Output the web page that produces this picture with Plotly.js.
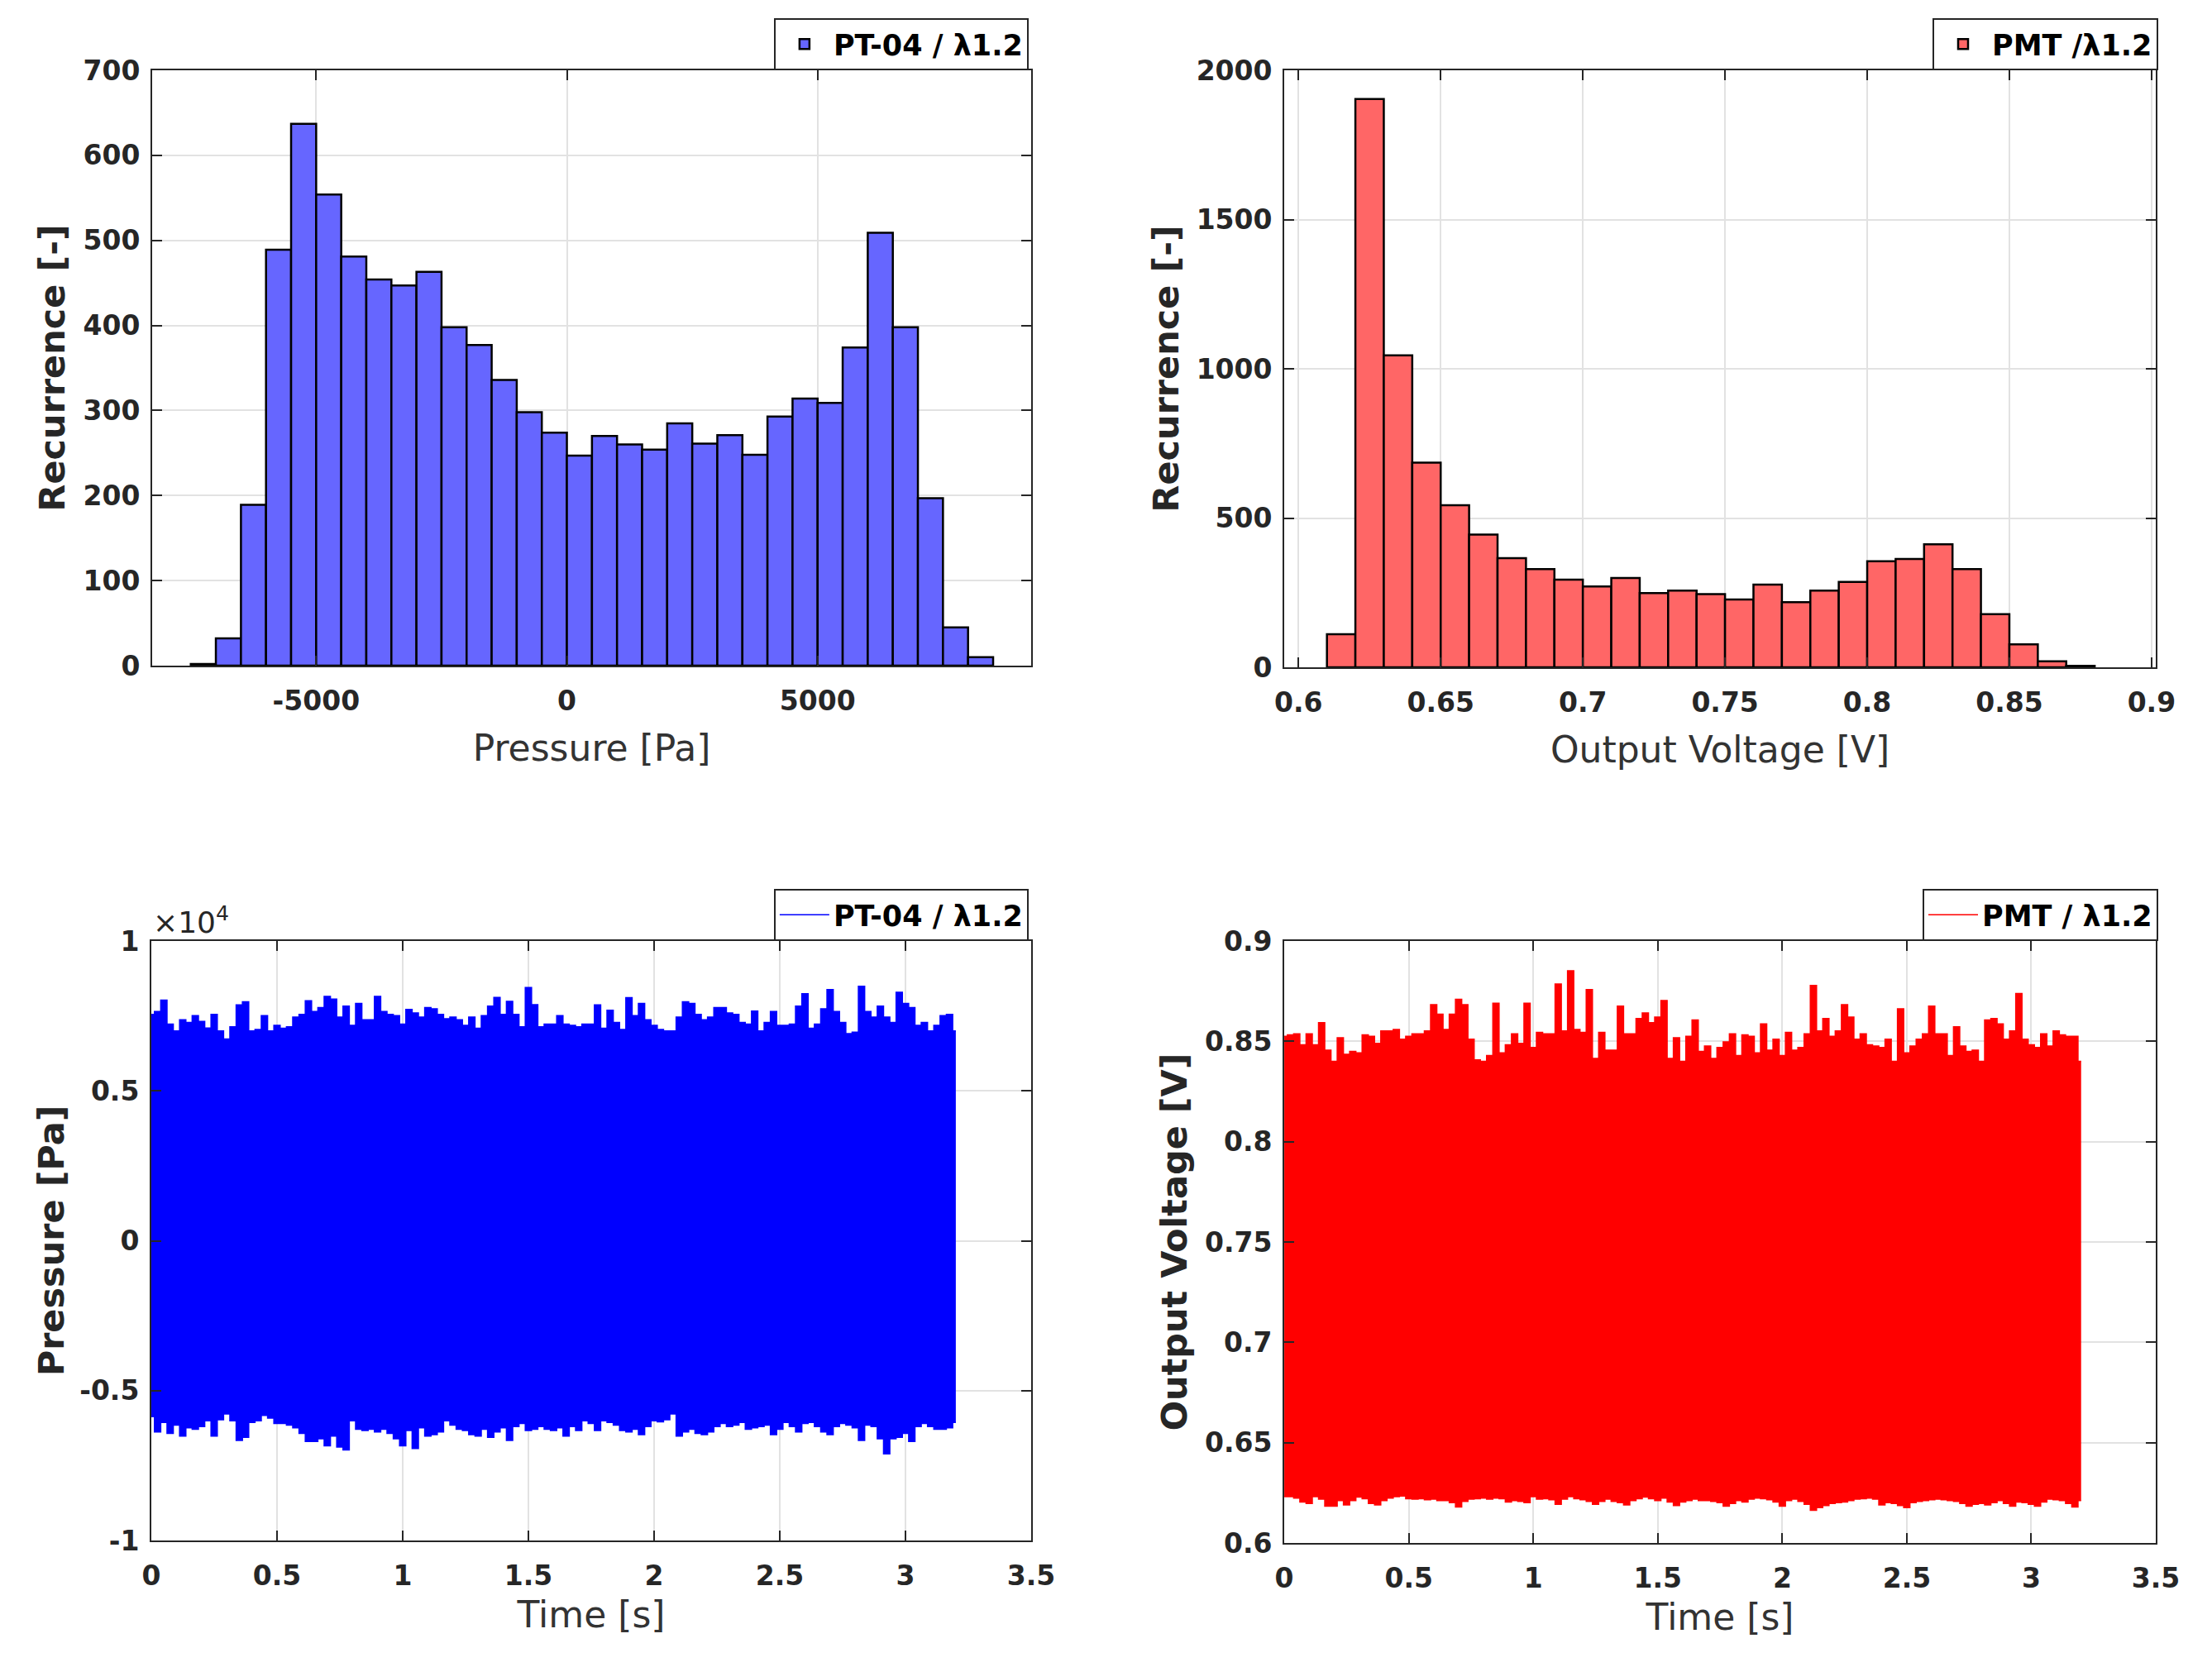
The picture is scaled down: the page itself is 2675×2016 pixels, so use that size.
<!DOCTYPE html>
<html>
<head>
<meta charset="utf-8">
<script src="https://cdn.plot.ly/plotly-3.0.1.min.js"></script>
<style>html,body{margin:0;padding:0;background:#fff}</style>
</head>
<body>
<div id="chart" style="width:2675px;height:2016px"></div>
<script>
// histogram of the pressure signal (bin left edges in Pa, 500 Pa bins)
const pressureBinLeft = [-7500, -7000, -6500, -6000, -5500, -5000, -4500, -4000, -3500, -3000, -2500, -2000,
  -1500, -1000, -500, 0, 500, 1000, 1500, 2000, 2500, 3000, 3500, 4000, 4500, 5000, 5500, 6000, 6500, 7000, 7500, 8000];
const pressureCounts = [2, 32, 189, 489, 637, 554, 481, 454, 447, 463, 398, 377, 336, 298, 274, 247, 270, 260, 254,
  285, 261, 271, 248, 293, 314, 309, 374, 509, 398, 197, 45, 10];

// histogram of the PMT voltage (bin left edges in V, 0.01 V bins)
const voltageBinLeft = [0.61, 0.62, 0.63, 0.64, 0.65, 0.66, 0.67, 0.68, 0.69, 0.70, 0.71, 0.72, 0.73, 0.74, 0.75,
  0.76, 0.77, 0.78, 0.79, 0.80, 0.81, 0.82, 0.83, 0.84, 0.85, 0.86, 0.87];
const voltageCounts = [111, 1904, 1045, 686, 543, 445, 366, 329, 294, 271, 299, 249, 257, 245, 227, 277, 218, 257,
  286, 355, 363, 412, 329, 178, 77, 20, 5];

// time signals, min/max per 0.025 s window
const SAMPLE_STEP = 0.025;
const pressureUpper = [
  7550, 7650, 8030, 7230, 7000, 7370, 7280, 7510, 7320, 7100,
  7550, 7000, 6730, 7140, 7870, 7970, 7000, 7050, 7510, 7000,
  7190, 7090, 7140, 7460, 7550, 8010, 7650, 7780, 8150, 8060,
  7460, 7830, 7190, 7920, 7370, 7370, 8150, 7650, 7550, 7510,
  7230, 7720, 7600, 7460, 7780, 7740, 7550, 7410, 7460, 7370,
  7190, 7460, 7090, 7510, 7830, 8120, 7550, 7990, 7550, 7140,
  8450, 7880, 7140, 7230, 7230, 7510,
  7230, 7190, 7140, 7230, 7230, 7870, 7090, 7690, 7280, 7050,
  8110, 7510, 7920, 7370, 7190, 7050, 7000, 7000, 7460, 7970,
  7920, 7550, 7370, 7460, 7780, 7780, 7600, 7550, 7280, 7230,
  7660, 7000, 7280, 7650, 7190, 7190, 7230, 7830, 8240, 7090,
  7230, 7740, 8380, 7650, 7280, 6910, 6960, 8490, 7650, 7460,
  7830, 7460, 7280, 8290, 7920, 7780, 7190, 7280, 7000, 7190,
  7510, 7550, 7000];
const pressureLower = [
  -5870, -6380, -6060, -6430, -6150, -6520, -6240, -6290, -6200, -6010,
  -6520, -5970, -5780, -6010, -6660, -6560, -6060, -6010, -5830, -5920,
  -6100, -6100, -6150, -6240, -6430, -6700, -6700, -6610, -6840, -6520,
  -6880, -6980, -6010, -6290, -6330, -6290, -6380, -6290, -6430, -6610,
  -6840, -6330, -6930, -6240, -6520, -6470, -6380, -6010, -6150, -6290,
  -6330, -6470, -6520, -6290, -6560, -6380, -6240, -6660, -6200, -6100,
  -6330, -6290, -6200, -6290, -6330, -6240,
  -6520, -6200, -6330, -6010, -6100, -6330, -6010, -6060, -6150, -6330,
  -6380, -6290, -6470, -6200, -6010, -6040, -5970, -5780, -6520, -6380,
  -6290, -6430, -6470, -6380, -6200, -6100, -6200, -6150, -6060, -6290,
  -6240, -6200, -6150, -6470, -6290, -6060, -6200, -6380, -6100, -6060,
  -6200, -6380, -6470, -6200, -6100, -6150, -6240, -6660, -6150, -6200,
  -6610, -7110, -6610, -6560, -6430, -6700, -6200, -6100, -6200, -6290,
  -6290, -6240, -6060];
const voltageUpper = [
  0.8525, 0.8532, 0.8538, 0.8483, 0.8538, 0.8483, 0.8593, 0.8456, 0.8401, 0.8518,
  0.8436, 0.8450, 0.8443, 0.8532, 0.8525, 0.8490, 0.8552, 0.8552, 0.8559, 0.8511,
  0.8525, 0.8538, 0.8538, 0.8552, 0.8683, 0.8635, 0.8559, 0.8635, 0.8710, 0.8683,
  0.8511, 0.8408, 0.8401, 0.8429, 0.8690, 0.8443, 0.8483, 0.8538, 0.8490, 0.8690,
  0.8470, 0.8545, 0.8538, 0.8538, 0.8786, 0.8552, 0.8852, 0.8559, 0.8545, 0.8758,
  0.8415, 0.8545, 0.8456, 0.8456, 0.8676, 0.8538, 0.8538, 0.8614, 0.8642, 0.8593,
  0.8621, 0.8703, 0.8415, 0.8518, 0.8401, 0.8525,
  0.8607, 0.8450, 0.8477, 0.8415, 0.8470, 0.8497, 0.8538, 0.8429, 0.8532, 0.8525,
  0.8443, 0.8587, 0.8456, 0.8511, 0.8429, 0.8545, 0.8456, 0.8470, 0.8538, 0.8779,
  0.8552, 0.8614, 0.8525, 0.8552, 0.8683, 0.8621, 0.8511, 0.8538, 0.8483, 0.8477,
  0.8470, 0.8511, 0.8401, 0.8662, 0.8443, 0.8477, 0.8511, 0.8538, 0.8676, 0.8538,
  0.8538, 0.8429, 0.8573, 0.8477, 0.8450, 0.8456, 0.8401, 0.8607, 0.8614, 0.8587,
  0.8511, 0.8552, 0.8738, 0.8511, 0.8483, 0.8470, 0.8538, 0.8477, 0.8552, 0.8532,
  0.8525, 0.8525, 0.8401];
const voltageLower = [
  0.6231, 0.6231, 0.6224, 0.6204, 0.6197, 0.6231, 0.6218, 0.6183, 0.6183, 0.6211,
  0.6190, 0.6211, 0.6229, 0.6220, 0.6197, 0.6190, 0.6211, 0.6224, 0.6231, 0.6234,
  0.6220, 0.6218, 0.6220, 0.6215, 0.6218, 0.6211, 0.6211, 0.6201, 0.6179, 0.6207,
  0.6218, 0.6220, 0.6224, 0.6218, 0.6224, 0.6220, 0.6204, 0.6211, 0.6207, 0.6201,
  0.6231, 0.6218, 0.6220, 0.6215, 0.6193, 0.6218, 0.6231, 0.6220, 0.6215, 0.6207,
  0.6193, 0.6207, 0.6218, 0.6207, 0.6201, 0.6190, 0.6211, 0.6220, 0.6229, 0.6220,
  0.6211, 0.6224, 0.6204, 0.6187, 0.6204, 0.6211,
  0.6218, 0.6211, 0.6211, 0.6207, 0.6201, 0.6183, 0.6197, 0.6211, 0.6204, 0.6218,
  0.6224, 0.6220, 0.6215, 0.6204, 0.6183, 0.6211, 0.6218, 0.6207, 0.6193, 0.6163,
  0.6176, 0.6187, 0.6197, 0.6201, 0.6204, 0.6211, 0.6218, 0.6220, 0.6224, 0.6218,
  0.6190, 0.6201, 0.6197, 0.6187, 0.6176, 0.6201, 0.6207, 0.6211, 0.6215, 0.6218,
  0.6215, 0.6211, 0.6207, 0.6197, 0.6183, 0.6193, 0.6197, 0.6190, 0.6201, 0.6211,
  0.6197, 0.6183, 0.6204, 0.6201, 0.6193, 0.6183, 0.6204, 0.6218, 0.6215, 0.6211,
  0.6197, 0.6179, 0.6211];

const timeSeconds = pressureUpper.map((_, i) => i * SAMPLE_STEP);

const DARK = "#262626";
const tickFont = { family: "DejaVu Sans", size: 33, color: DARK, weight: "bold" };

function achse(extra) {
  return Object.assign({
    showline: true, mirror: "ticks", linecolor: DARK, linewidth: 2,
    ticks: "inside", ticklen: 12, tickwidth: 2, tickcolor: DARK,
    showgrid: true, gridcolor: "#e2e2e2", gridwidth: 2,
    zeroline: false, tickfont: tickFont, automargin: false, fixedrange: true
  }, extra);
}

function titel(text, bold, standoff) {
  return { text: text, standoff: standoff,
    font: { family: "DejaVu Sans", size: bold ? 43 : 44, color: bold ? DARK : "#333333", weight: bold ? "bold" : "normal" } };
}

function legende(xRight, yBottom) {
  return {
    x: xRight, xanchor: "right", y: yBottom, yanchor: "bottom",
    bgcolor: "#ffffff", bordercolor: DARK, borderwidth: 2,
    font: { family: "DejaVu Sans", size: 35, color: "#000", weight: "bold" },
    itemwidth: 60, tracegroupgap: 0
  };
}

const traces = [
  {
    type: "bar", x: pressureBinLeft, y: pressureCounts, width: 500, offset: 0,
    marker: { color: "#6666ff", line: { color: "#000", width: 2.5 } },
    name: "PT-04 / λ1.2", xaxis: "x", yaxis: "y", legend: "legend"
  },
  {
    type: "bar", x: voltageBinLeft, y: voltageCounts, width: 0.01, offset: 0,
    marker: { color: "#ff6666", line: { color: "#000", width: 2.5 } },
    name: "PMT /λ1.2", xaxis: "x2", yaxis: "y2", legend: "legend2"
  },
  {
    type: "scatter", mode: "lines", x: timeSeconds, y: pressureLower,
    line: { color: "#0000ff", width: 1.5, shape: "hvh" },
    name: "PT-04 / λ1.2", xaxis: "x3", yaxis: "y3", legend: "legend3"
  },
  {
    type: "scatter", mode: "lines", x: timeSeconds, y: pressureUpper,
    line: { color: "#0000ff", width: 1.5, shape: "hvh" }, fill: "tonexty", fillcolor: "#0000ff",
    showlegend: false, xaxis: "x3", yaxis: "y3"
  },
  {
    type: "scatter", mode: "lines", x: timeSeconds, y: voltageLower,
    line: { color: "#ff0000", width: 1.5, shape: "hvh" },
    name: "PMT / λ1.2", xaxis: "x4", yaxis: "y4", legend: "legend4"
  },
  {
    type: "scatter", mode: "lines", x: timeSeconds, y: voltageUpper,
    line: { color: "#ff0000", width: 1.5, shape: "hvh" }, fill: "tonexty", fillcolor: "#ff0000",
    showlegend: false, xaxis: "x4", yaxis: "y4"
  }
];

const layout = {
  width: 2675, height: 2016,
  margin: { l: 0, r: 0, t: 0, b: 0 },
  paper_bgcolor: "#fff", plot_bgcolor: "#fff",
  bargap: 0,
  xaxis: achse({ domain: [0.0688, 0.4662], anchor: "y", range: [-8270, 9260],
    tickvals: [-5000, 0, 5000], ticktext: ["-5000", "0", "5000"], ticklabelstandoff: 12,
    title: titel("Pressure [Pa]", false, 24) }),
  yaxis: achse({ domain: [0.6007, 0.9578], anchor: "x", range: [0, 700], dtick: 100,
    ticklabelstandoff: 6, title: titel("Recurrence [-]", true, 8) }),
  xaxis2: achse({ domain: [0.5806, 0.9746], anchor: "y2", range: [0.595, 0.9015],
    tickvals: [0.6, 0.65, 0.7, 0.75, 0.8, 0.85, 0.9], ticklabelstandoff: 12,
    title: titel("Output Voltage [V]", false, 24) }),
  yaxis2: achse({ domain: [0.5997, 0.9578], anchor: "x2", range: [0, 2000], dtick: 500,
    ticklabelstandoff: 6, title: titel("Recurrence [-]", true, 8) }),
  xaxis3: achse({ domain: [0.0684, 0.4662], anchor: "y3", range: [0, 3.5], dtick: 0.5,
    ticklabelstandoff: 12, title: titel("Time [s]", false, 14) }),
  yaxis3: achse({ domain: [0.0759, 0.4355], anchor: "x3", range: [-10000, 10000],
    tickvals: [-10000, -5000, 0, 5000, 10000], ticktext: ["-1", "-0.5", "0", "0.5", "1"],
    ticklabelstandoff: 6, title: titel("Pressure [Pa]", true, 5) }),
  xaxis4: achse({ domain: [0.5806, 0.9746], anchor: "y4", range: [0, 3.5], dtick: 0.5,
    ticklabelstandoff: 12, title: titel("Time [s]", false, 14) }),
  yaxis4: achse({ domain: [0.0744, 0.4355], anchor: "x4", range: [0.6, 0.9],
    tickvals: [0.6, 0.65, 0.7, 0.75, 0.8, 0.85, 0.9],
    ticklabelstandoff: 6, title: titel("Output Voltage [V]", true, 8) }),
  legend: legende(0.465, 0.9578),
  legend2: legende(0.9757, 0.9578),
  legend3: legende(0.465, 0.4355),
  legend4: legende(0.9757, 0.4355),
  annotations: [{
    text: "×10<sup>4</sup>", xref: "paper", yref: "paper", x: 0.0684, y: 0.4355,
    xanchor: "left", yanchor: "bottom", showarrow: false,
    font: { family: "DejaVu Sans", size: 36, color: DARK }
  }]
};

Plotly.newPlot("chart", traces, layout, { staticPlot: true, displayModeBar: false });
</script>
</body>
</html>
